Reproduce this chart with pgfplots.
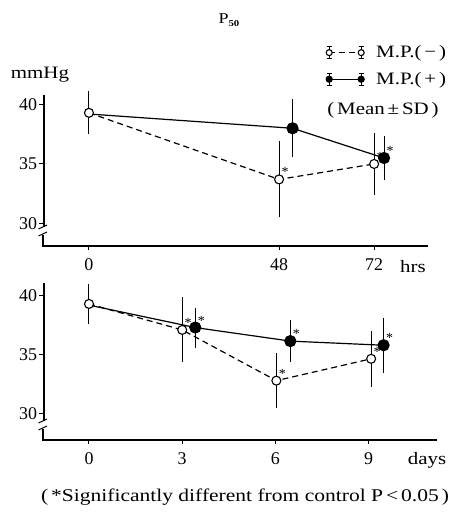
\documentclass[border=0pt]{standalone}
\usepackage{fontspec}
\setmainfont{Liberation Serif}
\newfontfamily\widefont{Liberation Serif}[FakeStretch=1.2]
\usepackage{pgfplots}
\pgfplotsset{compat=1.18}

\newcommand{\lbl}{\fontsize{18}{20}\selectfont}
\newcommand{\txt}{\widefont\fontsize{17.5}{20}\selectfont}
\tikzset{sigstar/.style={font=\fontsize{14}{14}\selectfont, xshift=6bp, yshift=7bp}}

\pgfplotsset{
  panel/.style={
    scale only axis,
    axis x line=bottom, axis y line=left,
    axis line style={line width=1.2bp, -},
    y axis line style={draw=none},
    tick style={black, line width=1bp},
    tick align=outside, major tick length=4bp,
    ytick={30,35,40},
    tick label style={font=\lbl},
    xticklabel style={yshift=-5bp},
    yticklabel style={xshift=1.5bp},
    /pgf/number format/assume math mode=true,
    clip=false,
  },
  errs/.style={
    error bars/y dir=both, error bars/y explicit,
    error bars/error bar style={solid, line width=1bp},
    error bars/error mark options={solid, line width=1bp, mark size=3.5bp},
  },
  mpminus/.style={
    black, line width=1.2bp, dash pattern=on 6bp off 4bp,
    mark=*, mark size=4.5bp,
    mark options={solid, fill=white, draw=black, line width=1.1bp},
    errs,
  },
  mpplus/.style={
    black, line width=1.2bp,
    mark=*, mark size=5.5bp,
    mark options={solid, fill=black},
    errs,
  },
  iconcode/.style={
    legend image code/.code={
      \draw[solid, line width=0.9bp]
        (0bp,-6bp) -- (0bp,6bp) (-2.5bp,-6bp) -- (2.5bp,-6bp) (-2.5bp,6bp) -- (2.5bp,6bp)
        (32bp,-6bp) -- (32bp,6bp) (29.5bp,-6bp) -- (34.5bp,-6bp) (29.5bp,6bp) -- (34.5bp,6bp);
      \draw[##1, mark indices={1,2}, mark size=3bp] plot coordinates {(0bp,0bp) (32bp,0bp)};
    },
  },
}

\begin{document}
\begin{tikzpicture}[x=1bp, y=1bp]
\useasboundingbox (0,0) rectangle (455,513);

% upper panel: hours
\begin{axis}[panel,
  at={(43bp,267bp)}, anchor=south west,
  width=385bp, height=151bp,
  xmin=-11.6, xmax=85.6, ymin=28.1, ymax=40.8,
  xtick={0,48,72},
  reverse legend,
  legend style={draw=none, fill=none, inner sep=0pt,
    at={(axis description cs:0.735,1.34)}, anchor=north west,
    font=\txt, row sep=9bp, legend cell align=left,
    /tikz/every odd column/.append style={column sep=10bp}},
]
\addplot[mpplus, mark indices={2,3}, iconcode] coordinates {
  (0,39.2) +- (0,0)
  (51.4,38.0) +- (0,2.15)
  (74.5,35.5) +- (0,1.55)
};
\addplot[mpminus, iconcode] coordinates {
  (0,39.3) +- (0,1.5)
  (48,33.7) +- (0,2.9)
  (72,35.0) +- (0,2.3)
};
\legend{M.P.(\,+\,),M.P.(\,−\,)}
\node[sigstar] at (axis cs:48,33.7) {*};
\node[sigstar] at (axis cs:72,35.0) {*};
\node[sigstar] at (axis cs:74.5,35.5) {*};
\end{axis}

% lower panel: days
\begin{axis}[panel,
  at={(43bp,73bp)}, anchor=south west,
  width=394bp, height=156.7bp,
  xmin=-1.48, xmax=11.2, ymin=27.77, ymax=41.05,
  xtick={0,3,6,9},
]
\addplot[mpplus, mark indices={2,3,4}] coordinates {
  (0,39.2) +- (0,0)
  (3.42,37.3) +- (0,1.4)
  (6.48,36.15) +- (0,1.5)
  (9.48,35.8) +- (0,2.05)
};
\addplot[mpminus] coordinates {
  (0,39.3) +- (0,1.4)
  (3.0,37.1) +- (0,2.45)
  (6.03,32.8) +- (0,2.05)
  (9.08,34.65) +- (0,2.05)
};
\node[sigstar] at (axis cs:3.0,37.1) {*};
\node[sigstar] at (axis cs:3.42,37.3) {*};
\node[sigstar] at (axis cs:6.03,32.8) {*};
\node[sigstar] at (axis cs:6.48,36.15) {*};
\node[sigstar] at (axis cs:9.08,34.65) {*};
\node[sigstar] at (axis cs:9.48,35.8) {*};
\end{axis}

% broken y axes
\draw[line width=1.2bp] (44,418) -- (44,286) (43,278) -- (43,266.4);
\draw[line width=1bp] (38.5,284) -- (47,288) (38.5,277) -- (47,281);
\draw[line width=1.2bp] (44,229.7) -- (44,92) (43,84) -- (43,72.4);
\draw[line width=1bp] (38.5,90) -- (47,94) (38.5,83) -- (47,87);

% texts
\node[font=\widefont\fontsize{15}{15}\selectfont] at (229,493) {P\raisebox{-0.4ex}{\fontsize{9}{9}\selectfont\bfseries 50}};
\node[font=\txt] at (40,438) {mmHg};
\node[font=\txt] at (383,403) {(\,Mean\,±\,SD\,)};
\node[font=\txt] at (413,246) {hrs};
\node[font=\txt] at (427,53) {days};
\node[font=\widefont\fontsize{18}{20}\selectfont] at (245,16) {(\,*Significantly different from control P\,<\,0.05\,)};
\end{tikzpicture}
\end{document}
